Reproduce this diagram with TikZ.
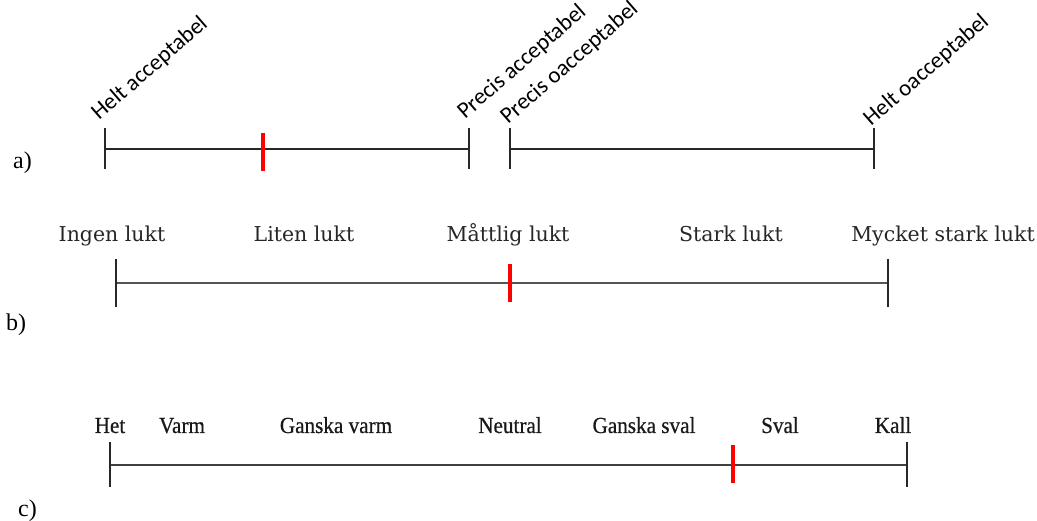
\documentclass[tikz,border=0pt]{standalone}
\usepackage{fontspec}
\setmainfont{Liberation Serif}
\newfontfamily\calibrifont{Carlito}
\newfontfamily\cambriafont{DejaVu Serif}
\newfontfamily\tempfont[FakeStretch=0.92, FakeBold=0.6]{Liberation Serif}
\usepackage{tikz}
\usetikzlibrary{positioning}
\usepackage{xcolor}
\definecolor{markred}{RGB}{255,0,0}
\definecolor{scalegray}{RGB}{85,85,85}
\definecolor{tickgray}{RGB}{40,40,40}

\begin{document}
\begin{tikzpicture}[x=1pt, y=-1pt,
  scaleline/.style={line width=2pt, draw=tickgray},
  tickline/.style={line width=1.8pt, draw=tickgray},
  redmark/.style={line width=4pt, draw=markred},
  anglab/.style={font=\calibrifont\fontsize{23}{26}\selectfont, rotate=41, anchor=base west, inner sep=0pt},
  smelllab/.style={font=\cambriafont\fontsize{20.5}{24}\selectfont, text=black!85, anchor=base, inner sep=0pt},
  templab/.style={font=\tempfont\fontsize{23}{26}\selectfont, text=black!90, anchor=base, inner sep=0pt},
  partlab/.style={font=\fontsize{24}{28}\selectfont, anchor=base west, inner sep=0pt}]
  \useasboundingbox (0,0) rectangle (1037,521);

  % Scale a
  \coordinate (aL) at (105,149);
  \coordinate (aM) at (469,149);
  \coordinate (aN) at (510,149);
  \coordinate (aR) at (874,149);
  \draw[scaleline] (aL) -- (aM);
  \draw[scaleline] (aN) -- (aR);
  \draw[tickline] (aL) ++(0,-21) -- ++(0,41);
  \draw[tickline] (aM) ++(0,-21) -- ++(0,41);
  \draw[tickline] (aN) ++(0,-21) -- ++(0,41);
  \draw[tickline] (aR) ++(0,-21) -- ++(0,41);
  \coordinate (aX) at (263,152);
  \draw[redmark] (aX) ++(0,-19) -- ++(0,38);
  \node[anglab] (helt) at (99,121) {Helt acceptabel};
  \node[anglab] (precis) at (465,120) {Precis acceptabel};
  \node[anglab] (precisO) at (508,125) {Precis oacceptabel};
  \node[anglab] (heltO) at (871,127) {Helt oacceptabel};
  \node[partlab] (partA) at (13,169) {a)};

  % Scale b
  \coordinate (bL) at (116,283);
  \coordinate (bR) at (888,283);
  \draw[line width=2pt, draw=scalegray] (bL) -- (bR);
  \draw[line width=1.5pt, draw=tickgray] (bL) ++(0,-24) -- ++(0,48);
  \draw[line width=1.5pt, draw=tickgray] (bR) ++(0,-24) -- ++(0,48);
  \coordinate (bX) at (510,283);
  \draw[redmark] (bX) ++(0,-19) -- ++(0,38);
  \node[smelllab] (ingen) at (112,242) {Ingen lukt};
  \node[smelllab] (liten) at (304,242) {Liten lukt};
  \node[smelllab] (mattlig) at (508,242) {Måttlig lukt};
  \node[smelllab] (stark) at (731,242) {Stark lukt};
  \node[smelllab] (mycket) at (943,242) {Mycket stark lukt};
  \node[partlab] (partB) at (6,331) {b)};

  % Scale c
  \coordinate (cL) at (110,465);
  \coordinate (cR) at (907,465);
  \draw[line width=2.6pt, draw=black!75] (cL) -- (cR);
  \draw[line width=1.5pt, draw=tickgray] (cL) ++(0,-23) -- ++(0,45);
  \draw[line width=1.5pt, draw=tickgray] (cR) ++(0,-23) -- ++(0,45);
  \coordinate (cX) at (733,464);
  \draw[redmark] (cX) ++(0,-19) -- ++(0,38);
  \node[templab] (het) at (110,433) {Het};
  \node[templab] (varm) at (182,433) {Varm};
  \node[templab] (gvarm) at (336,433) {Ganska varm};
  \node[templab] (neutral) at (510,433) {Neutral};
  \node[templab] (gsval) at (644,433) {Ganska sval};
  \node[templab] (sval) at (780,433) {Sval};
  \node[templab] (kall) at (893,433) {Kall};
  \node[partlab] (partC) at (18,516) {c)};
\end{tikzpicture}
\end{document}
